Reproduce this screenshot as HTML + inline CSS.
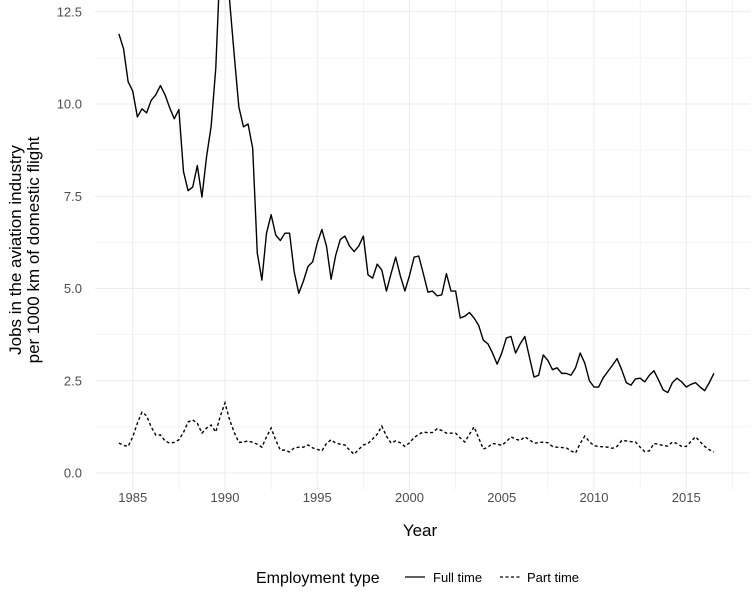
<!DOCTYPE html>
<html><head><meta charset="utf-8"><style>
html,body{margin:0;padding:0;background:#fff;}
svg text{font-family:"Liberation Sans",sans-serif;}
</style></head><body>
<svg width="754" height="610" viewBox="0 0 754 610" xmlns="http://www.w3.org/2000/svg">
<defs><clipPath id="pc"><rect x="95" y="0" width="655" height="490"/></clipPath></defs>
<g id="grid"></g>
<g id="yticks"></g>
<g id="xticks"></g>
<g clip-path="url(#pc)" id="series"></g>
<text x="420" y="536" font-size="17" fill="#000" text-anchor="middle">Year</text>
<text transform="translate(21,250) rotate(-90)" font-size="17" fill="#000" text-anchor="middle"><tspan x="0" dy="0">Jobs in the aviation industry</tspan><tspan x="0" dy="18">per 1000 km of domestic flight</tspan></text>
<g>
<text x="256" y="583" font-size="16" fill="#000">Employment type</text>
<line x1="405" y1="577" x2="425" y2="577" stroke="#000" stroke-width="1.3"/>
<text x="433" y="582" font-size="13" fill="#000">Full time</text>
<line x1="500" y1="577" x2="520" y2="577" stroke="#000" stroke-width="1.3" stroke-dasharray="3,2.5"/>
<text x="527" y="582" font-size="13" fill="#000">Part time</text>
</g>
</svg>
<script>
const startYear = 1984.25;
const fullTime = [11.9,11.5,10.6,10.35,9.65,9.87,9.76,10.1,10.25,10.5,10.25,9.9,9.6,9.85,8.17,7.65,7.75,8.33,7.48,8.57,9.4,10.97,14,14.5,12.8,11.33,9.92,9.38,9.46,8.8,5.96,5.23,6.5,7.0,6.45,6.3,6.5,6.5,5.45,4.87,5.2,5.6,5.72,6.23,6.6,6.15,5.25,5.9,6.33,6.42,6.15,6.0,6.15,6.42,5.37,5.28,5.66,5.5,4.93,5.4,5.85,5.35,4.93,5.35,5.85,5.88,5.4,4.9,4.93,4.8,4.83,5.4,4.93,4.93,4.2,4.25,4.35,4.2,4.0,3.6,3.5,3.25,2.95,3.25,3.66,3.7,3.25,3.5,3.7,3.14,2.6,2.65,3.2,3.05,2.8,2.85,2.7,2.7,2.65,2.85,3.25,2.98,2.5,2.33,2.33,2.58,2.75,2.92,3.1,2.8,2.45,2.38,2.55,2.57,2.47,2.65,2.77,2.52,2.25,2.18,2.45,2.57,2.47,2.33,2.4,2.45,2.33,2.23,2.45,2.7];
const partTime = [0.81,0.75,0.72,0.98,1.35,1.65,1.55,1.25,1.03,1.03,0.87,0.81,0.83,0.9,1.1,1.38,1.44,1.35,1.08,1.22,1.3,1.11,1.55,1.9,1.44,1.1,0.83,0.84,0.87,0.83,0.78,0.7,0.98,1.22,0.89,0.62,0.62,0.57,0.68,0.7,0.7,0.76,0.68,0.64,0.6,0.8,0.9,0.81,0.78,0.76,0.62,0.51,0.64,0.76,0.8,0.92,1.05,1.27,1.0,0.81,0.87,0.82,0.72,0.82,0.96,1.05,1.11,1.09,1.1,1.2,1.15,1.08,1.08,1.08,0.95,0.84,1.05,1.25,0.95,0.65,0.7,0.8,0.78,0.75,0.85,0.98,0.92,0.88,0.98,0.9,0.81,0.82,0.84,0.82,0.72,0.7,0.69,0.68,0.6,0.54,0.8,1.0,0.85,0.74,0.72,0.71,0.7,0.67,0.72,0.88,0.87,0.85,0.84,0.7,0.58,0.6,0.8,0.78,0.74,0.73,0.84,0.8,0.72,0.72,0.85,0.98,0.85,0.72,0.63,0.57];
const xTicks = [1985,1990,1995,2000,2005,2010,2015];
const yTicks = [0,2.5,5,7.5,10,12.5];
const yTickLabels = ["0.0","2.5","5.0","7.5","10.0","12.5"];

const NS="http://www.w3.org/2000/svg";
function xs(yr){return 225+(yr-1990)*18.45;}
function ys(v){return 473-v*36.9;}
function mk(tag,attrs,parent){const e=document.createElementNS(NS,tag);for(const k in attrs)e.setAttribute(k,attrs[k]);parent.appendChild(e);return e;}
const grid=document.getElementById('grid');
for(let v=-1.25;v<=13.75;v+=1.25){const y=ys(v);if(y<0||y>490)continue;
 const major=Math.abs(v/2.5-Math.round(v/2.5))<1e-6;
 const l=mk('line',{x1:95,x2:750,y1:y,y2:y,stroke:'#ebebeb','stroke-width':major?1:0.6},grid);
 
 }
for(let yr=1982.5;yr<=2017.5;yr+=2.5){const x=xs(yr);if(x<95||x>750)continue;
 const major=yr%5===0;
 const l=mk('line',{x1:x,x2:x,y1:0,y2:490,stroke:'#ebebeb','stroke-width':major?1:0.6},grid);
 
 }
const yt=document.getElementById('yticks');
yTicks.forEach((v,i)=>{const t=mk('text',{x:82,y:ys(v)+4.5,'font-size':13,fill:'#4d4d4d','text-anchor':'end'},yt);t.textContent=yTickLabels[i];
 
 });
const xt=document.getElementById('xticks');
xTicks.forEach(v=>{const t=mk('text',{x:xs(v),y:502,'font-size':13,fill:'#4d4d4d','text-anchor':'middle'},xt);t.textContent=String(v);
 
 });
const ser=document.getElementById('series');
function path(arr){return arr.map((v,i)=>(i?'L':'M')+xs(startYear+i*0.25).toFixed(2)+','+ys(v).toFixed(2)).join('');}
const pf=mk('path',{d:path(fullTime),fill:'none',stroke:'#000','stroke-width':1.4,'stroke-linejoin':'round'},ser);


const pp=mk('path',{d:path(partTime),fill:'none',stroke:'#000','stroke-width':1.4,'stroke-dasharray':'3,2.5'},ser);


</script>
</body></html>
